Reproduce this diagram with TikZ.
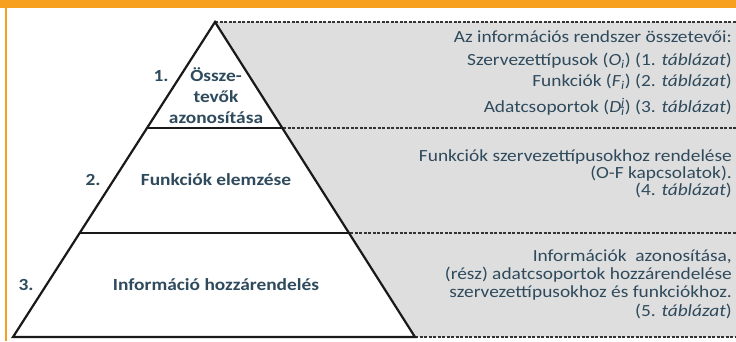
\documentclass[tikz,border=0pt]{standalone}
\usepackage{graphicx}
\usepackage{fontspec}
\setmainfont{Carlito}
\definecolor{orangeband}{HTML}{F7A020}
\definecolor{txt}{HTML}{2E4A5C}
\definecolor{grayfill}{HTML}{DEDEDE}
\newcommand{\wid}[1]{\scalebox{1.14}[1]{#1}}
\tikzset{
  rtext/.style={anchor=east,text=txt,font=\fontsize{17}{19}\selectfont,inner sep=0pt},
  ltext/.style={text=txt,font=\bfseries\fontsize{17}{21}\selectfont,inner sep=0pt,align=center},
  numtext/.style={text=txt,font=\bfseries\fontsize{17}{19}\selectfont,inner sep=0pt},
  dline/.style={draw=black!80,dash pattern=on 3pt off 1.5pt,line width=1.6pt},
  pline/.style={draw=black!90,line width=2.2pt}
}
\begin{document}
\begin{tikzpicture}[x=1pt,y=-1pt]
\useasboundingbox (0,0) rectangle (736,341);
\fill[white] (0,0) rectangle (736,341);
% orange frame
\fill[orangeband] (0,0) rectangle (736,8);
\fill[orangeband] (4.5,8) rectangle (7,341);
% coordinates
\coordinate (apex) at (215,22);
\coordinate (l1) at (147,128);
\coordinate (r1) at (283,128);
\coordinate (l2) at (80,233);
\coordinate (r2) at (350,233);
\coordinate (bl) at (13,337);
\coordinate (br) at (415,337);
\coordinate (e0) at (736,22);
\coordinate (e1) at (736,128);
\coordinate (e2) at (736,233);
\coordinate (e3) at (736,337);
% gray area
\fill[grayfill] (apex) -- (e0) -- (e3) -- (br) -- cycle;
% dashed lines
\draw[dline] (apex) -- (e0);
\draw[dline] (r1) -- (e1);
\draw[dline] (r2) -- (e2);
\draw[dline] (br) -- (e3);
% pyramid
\draw[pline,line join=miter] (apex) -- (bl) -- (br) -- cycle;
\draw[pline] (l1) -- (r1);
\draw[pline] (l2) -- (r2);
% left labels
\node[numtext] (n1) at (161,76) {\wid{1.}};
\node[ltext] (t1) at (216,96) {\wid{Össze-}\\\wid{tevők}\\\wid{azonosítása}};
\node[numtext] (n2) at (93,180) {\wid{2.}};
\node[ltext] (t2) at (216,180) {\wid{Funkciók elemzése}};
\node[numtext] (n3) at (26,285) {\wid{3.}};
\node[ltext] (t3) at (216,285) {\wid{Információ hozzárendelés}};
% right texts
\node[rtext] (a1) at (732,37) {\wid{Az információs rendszer összetevői:}};
\node[rtext] (a2) at (732,61) {\wid{Szervezettípusok (\textit{O}\textsubscript{\textit{i}}) (1. \textit{táblázat})}};
\node[rtext] (a3) at (732,82) {\wid{Funkciók (\textit{F}\textsubscript{\textit{i}}) (2. \textit{táblázat})}};
\node[rtext] (a4) at (732,107) {\wid{Adatcsoportok (\textit{D}\rlap{\textsuperscript{\textit{j}}}\textsubscript{\textit{i}}) (3. \textit{táblázat})}};
\node[rtext] (b1) at (732,157) {\wid{Funkciók szervezettípusokhoz rendelése}};
\node[rtext] (b2) at (732,174) {\wid{(O-F kapcsolatok).}};
\node[rtext] (b3) at (732,190) {\wid{(4. \textit{táblázat})}};
\node[rtext] (c1) at (732,257) {\wid{Információk\ \ azonosítása,}};
\node[rtext] (c2) at (732,275) {\wid{(rész) adatcsoportok hozzárendelése}};
\node[rtext] (c3) at (732,293) {\wid{szervezettípusokhoz és funkciókhoz.}};
\node[rtext] (c4) at (732,311) {\wid{(5. \textit{táblázat})}};
\end{tikzpicture}
\end{document}
